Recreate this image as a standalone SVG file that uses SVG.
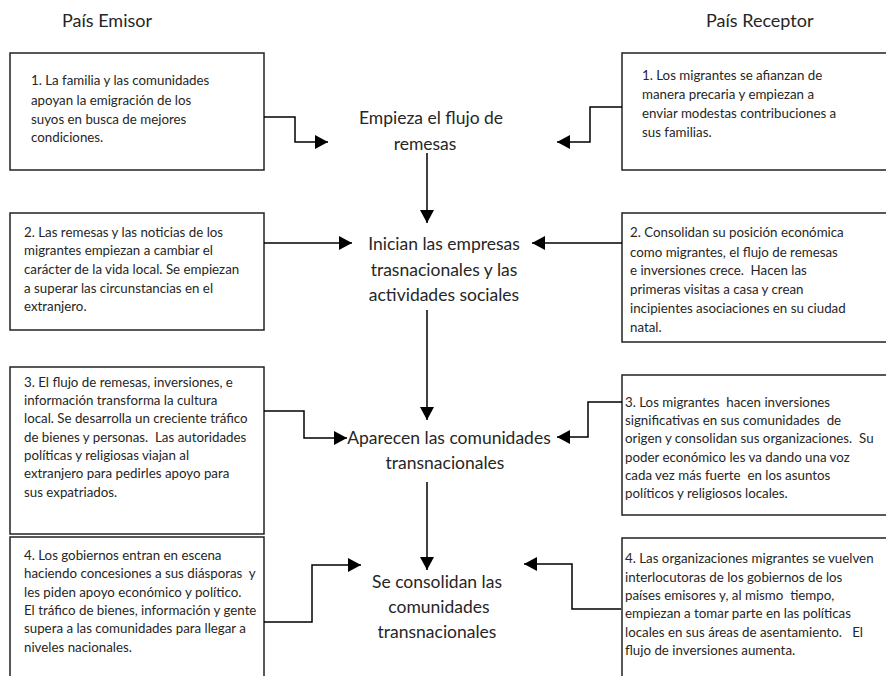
<svg xmlns="http://www.w3.org/2000/svg" width="886" height="676" viewBox="0 0 886 676">
<defs>
<style>
.box{fill:#fff;stroke:#222;stroke-width:1.5}
.t{font-family:Lato,"Open Sans","Liberation Sans",sans-serif;font-size:13.3px;fill:#262626;white-space:pre}
.c{font-family:Lato,"Open Sans","Liberation Sans",sans-serif;font-size:17.5px;fill:#262626;text-anchor:middle}
.h{font-family:Lato,"Open Sans","Liberation Sans",sans-serif;font-size:18px;fill:#262626}
.ln{fill:none;stroke:#000;stroke-width:1.5;marker-end:url(#ah)}
</style>
<marker id="ah" markerWidth="14" markerHeight="14" refX="13" refY="7" orient="auto" markerUnits="userSpaceOnUse"><path d="M0,0 L13,7 L0,14 z" fill="#000"/></marker>
</defs>
<rect width="886" height="676" fill="#fff"/>
<g id="headers">
<text class="h" x="62" y="27">País Emisor</text>
<text class="h" x="706" y="27">País Receptor</text>
</g>
<g id="L1"><rect class="box" x="10" y="53" width="254" height="117"/>
<text class="t" x="31" y="85">1. La familia y las comunidades</text>
<text class="t" x="31" y="105">apoyan la emigración de los</text>
<text class="t" x="31" y="124">suyos en busca de mejores</text>
<text class="t" x="31" y="142">condiciones.</text></g>
<g id="R1"><rect class="box" x="622" y="53" width="280" height="117"/>
<text class="t" x="642" y="80">1. Los migrantes se afianzan de</text>
<text class="t" x="642" y="99">manera precaria y empiezan a</text>
<text class="t" x="642" y="118">enviar modestas contribuciones a</text>
<text class="t" x="642" y="137">sus familias.</text></g>
<g id="L2"><rect class="box" x="10" y="213" width="254" height="117"/>
<text class="t" x="24" y="237">2. Las remesas y las noticias de los</text>
<text class="t" x="24" y="255">migrantes empiezan a cambiar el</text>
<text class="t" x="24" y="274">carácter de la vida local. Se empiezan</text>
<text class="t" x="24" y="293">a superar las circunstancias en el</text>
<text class="t" x="24" y="311">extranjero.</text></g>
<g id="R2"><rect class="box" x="622" y="213" width="280" height="129"/>
<text class="t" x="630" y="237">2. Consolidan su posición económica</text>
<text class="t" x="630" y="257">como migrantes, el flujo de remesas</text>
<text class="t" x="630" y="275">e inversiones crece.  Hacen las</text>
<text class="t" x="630" y="294">primeras visitas a casa y crean</text>
<text class="t" x="630" y="313">incipientes asociaciones en su ciudad</text>
<text class="t" x="630" y="332">natal.</text></g>
<g id="L3"><rect class="box" x="10" y="367" width="254" height="167"/>
<text class="t" x="24" y="387">3. El flujo de remesas, inversiones, e</text>
<text class="t" x="24" y="405">información transforma la cultura</text>
<text class="t" x="24" y="423">local. Se desarrolla un creciente tráfico</text>
<text class="t" x="24" y="442">de bienes y personas.  Las autoridades</text>
<text class="t" x="24" y="460">políticas y religiosas viajan al</text>
<text class="t" x="24" y="478">extranjero para pedirles apoyo para</text>
<text class="t" x="24" y="497">sus expatriados.</text></g>
<g id="R3"><rect class="box" x="622" y="375" width="280" height="140"/>
<text class="t" x="625" y="407">3. Los migrantes  hacen inversiones</text>
<text class="t" x="625" y="425">significativas en sus comunidades  de</text>
<text class="t" x="625" y="443">origen y consolidan sus organizaciones.  Su</text>
<text class="t" x="625" y="462">poder económico les va dando una voz</text>
<text class="t" x="625" y="480">cada vez más fuerte  en los asuntos</text>
<text class="t" x="625" y="498">políticos y religiosos locales.</text></g>
<g id="L4"><rect class="box" x="10" y="537" width="254" height="150"/>
<text class="t" x="24" y="560">4. Los gobiernos entran en escena</text>
<text class="t" x="24" y="578">haciendo concesiones a sus diásporas  y</text>
<text class="t" x="24" y="597">les piden apoyo económico y político.</text>
<text class="t" x="24" y="615">El tráfico de bienes, información y gente</text>
<text class="t" x="24" y="633">supera a las comunidades para llegar a</text>
<text class="t" x="24" y="652">niveles nacionales.</text></g>
<g id="R4"><rect class="box" x="622" y="538" width="280" height="150"/>
<text class="t" x="625" y="563">4. Las organizaciones migrantes se vuelven</text>
<text class="t" x="625" y="582">interlocutoras de los gobiernos de los</text>
<text class="t" x="625" y="600">países emisores y, al mismo  tiempo,</text>
<text class="t" x="625" y="618">empiezan a tomar parte en las políticas</text>
<text class="t" x="625" y="637">locales en sus áreas de asentamiento.   El</text>
<text class="t" x="625" y="655">flujo de inversiones aumenta.</text></g>
<g id="C1"><text class="c" x="431" y="124">Empieza el flujo de</text><text class="c" x="425" y="150">remesas</text></g>
<g id="C2"><text class="c" x="444" y="250">Inician las empresas</text><text class="c" x="444" y="276">trasnacionales y las</text><text class="c" x="444" y="301">actividades sociales</text></g>
<g id="C3"><text class="c" x="449" y="444">Aparecen las comunidades</text><text class="c" x="445" y="469">transnacionales</text></g>
<g id="C4"><text class="c" x="437" y="588">Se consolidan las</text><text class="c" x="439" y="613">comunidades</text><text class="c" x="437" y="638">transnacionales</text></g>
<g id="connectors">
<path class="ln" d="M264,117 H295 V142 H328"/>
<path class="ln" d="M622,107 H590 V142 H557"/>
<path class="ln" d="M427,153 V223"/>
<path class="ln" d="M264,243 H352"/>
<path class="ln" d="M622,243 H532"/>
<path class="ln" d="M427,310 V420"/>
<path class="ln" d="M264,411 H304 V438 H347"/>
<path class="ln" d="M622,402 H588 V437 H557"/>
<path class="ln" d="M427,482 V570"/>
<path class="ln" d="M264,622 H312 V565 H361"/>
<path class="ln" d="M621,609 H572 V564 H524"/>
</g>
</svg>
